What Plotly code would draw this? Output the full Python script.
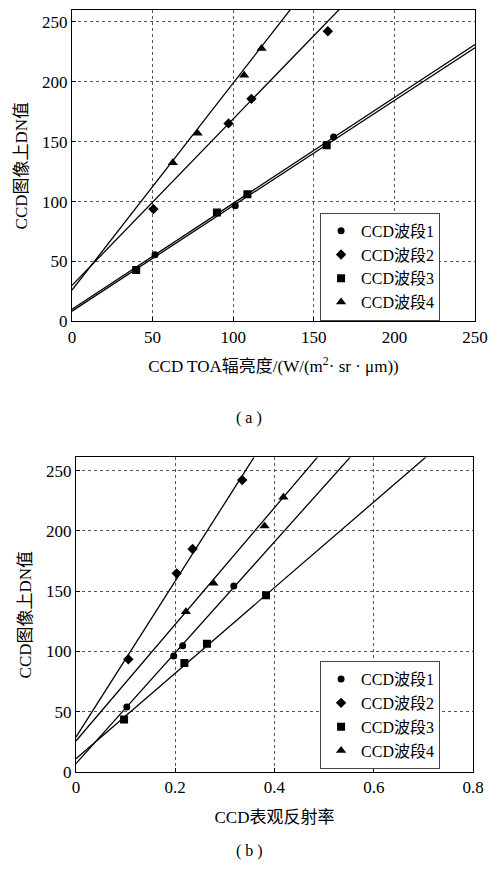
import plotly.graph_objects as go

# ---------------- data ----------------
band_names = ["CCD波段1", "CCD波段2", "CCD波段3", "CCD波段4"]
marker_symbols = ["circle", "diamond", "square", "triangle-up"]

# (a) TOA radiance vs DN
a_x1 = [51.5, 101.3, 108.8, 162.3]
a_y1 = [55.6, 96.4, 106.0, 153.9]
a_x2 = [50.5, 97.1, 111.3, 158.7]
a_y2 = [93.7, 165.3, 185.8, 242.3]
a_x3 = [39.8, 89.9, 108.8, 158.0]
a_y3 = [42.8, 90.8, 106.2, 147.0]
a_x4 = [62.5, 77.9, 106.8, 117.6]
a_y4 = [132.5, 157.0, 205.6, 227.8]
a_slope = [0.885, 1.39, 0.88, 1.73]
a_intercept = [10.0, 30.0, 8.5, 26.0]

# (b) apparent reflectance vs DN
b_x1 = [0.1025, 0.197, 0.215, 0.318]
b_y1 = [54.0, 96.3, 104.8, 154.4]
b_x2 = [0.1056, 0.203, 0.235, 0.335]
b_y2 = [93.6, 164.8, 185.0, 242.3]
b_x3 = [0.097, 0.2185, 0.264, 0.383]
b_y3 = [43.5, 90.5, 106.3, 146.7]
b_x4 = [0.2216, 0.277, 0.380, 0.418]
b_y4 = [132.9, 156.5, 204.0, 227.9]
b_slope = [460.0, 647.0, 355.0, 484.0]
b_intercept = [7.0, 29.0, 11.0, 25.7]

a_xticks = [0, 50, 100, 150, 200, 250]
b_xticks = [0, 0.2, 0.4, 0.6, 0.8]
yticks = [0, 50, 100, 150, 200, 250]

# ---------------- figure ----------------
FONT = "Liberation Serif, Noto Sans CJK SC"
W, H = 497, 876
ml, mr, mt, mb = 72, 14, 9, 104
ph = H - mt - mb
pw = W - ml - mr

def fy(py):
    return 1 - (py - mt) / ph

def fx(px):
    return (px - ml) / pw

fig = go.Figure()

a_sets = [(a_x1, a_y1), (a_x2, a_y2), (a_x3, a_y3), (a_x4, a_y4)]
b_sets = [(b_x1, b_y1), (b_x2, b_y2), (b_x3, b_y3), (b_x4, b_y4)]
msizes = [7, 8, 8, 9]

a_xmax = 250
b_xmax = 0.8
for i in range(4):
    lx = [0, a_xmax]
    ly = [a_intercept[i] + a_slope[i] * v for v in lx]
    fig.add_trace(go.Scatter(x=lx, y=ly, mode="lines", line=dict(color="black", width=1.3),
                             showlegend=False, xaxis="x", yaxis="y", hoverinfo="skip"))
for i in range(4):
    fig.add_trace(go.Scatter(x=a_sets[i][0], y=a_sets[i][1], mode="markers", name=band_names[i],
                             marker=dict(symbol=marker_symbols[i], size=msizes[i], color="black"),
                             xaxis="x", yaxis="y", legend="legend"))
for i in range(4):
    lx = [0, b_xmax]
    ly = [b_intercept[i] + b_slope[i] * v for v in lx]
    fig.add_trace(go.Scatter(x=lx, y=ly, mode="lines", line=dict(color="black", width=1.3),
                             showlegend=False, xaxis="x2", yaxis="y2", hoverinfo="skip"))
for i in range(4):
    fig.add_trace(go.Scatter(x=b_sets[i][0], y=b_sets[i][1], mode="markers", name=band_names[i],
                             marker=dict(symbol=marker_symbols[i], size=msizes[i], color="black"),
                             xaxis="x2", yaxis="y2", legend="legend2"))

axis_common = dict(showline=True, linecolor="black", linewidth=1, mirror=True,
                   ticks="inside", ticklen=4, tickcolor="black",
                   showgrid=True, gridcolor="#555555", griddash="dot", gridwidth=1,
                   zeroline=False, tickfont=dict(family=FONT, size=17, color="black"))

title_font = dict(family=FONT, size=17, color="black")
legend_common = dict(xanchor="left", yanchor="top",
                     bordercolor="#444444", borderwidth=1, bgcolor="white",
                     font=dict(family=FONT, size=16, color="black"), itemwidth=30,
                     tracegroupgap=0)

fig.update_layout(
    width=W, height=H, plot_bgcolor="white", paper_bgcolor="white",
    margin=dict(l=ml, r=mr, t=mt, b=mb),
    font=dict(family=FONT, color="black"),
    xaxis=dict(domain=[0, 1], anchor="y", range=[0, 250], tickvals=a_xticks,
               title=dict(text="CCD TOA辐亮度/(W/(m<sup>2</sup>· sr · μm))",
                          font=title_font, standoff=14),
               **axis_common),
    yaxis=dict(domain=[fy(320.7), 1], anchor="x", range=[0, 260], tickvals=yticks,
               title=dict(text="CCD图像上DN值", font=title_font, standoff=10),
               **axis_common),
    xaxis2=dict(domain=[fx(76), fx(481)], anchor="y2", range=[0, 0.8], tickvals=b_xticks,
                ticktext=["0", "0.2", "0.4", "0.6", "0.8"],
                title=dict(text="CCD表观反射率", font=title_font, standoff=14),
                **axis_common),
    yaxis2=dict(domain=[0, fy(457)], anchor="x2", range=[0, 261], tickvals=yticks,
                title=dict(text="CCD图像上DN值", font=title_font, standoff=10),
                **axis_common),
    legend=dict(x=fx(325), y=fy(212), **legend_common),
    legend2=dict(x=fx(325), y=fy(661), **legend_common),
    annotations=[
        dict(text="( a )", x=fx(253), y=fy(418), xref="paper", yref="paper",
             showarrow=False, font=dict(family=FONT, size=16)),
        dict(text="( b )", x=fx(253), y=fy(862), xref="paper", yref="paper",
             showarrow=False, font=dict(family=FONT, size=16)),
    ],
)

fig.write_html("out.html")
